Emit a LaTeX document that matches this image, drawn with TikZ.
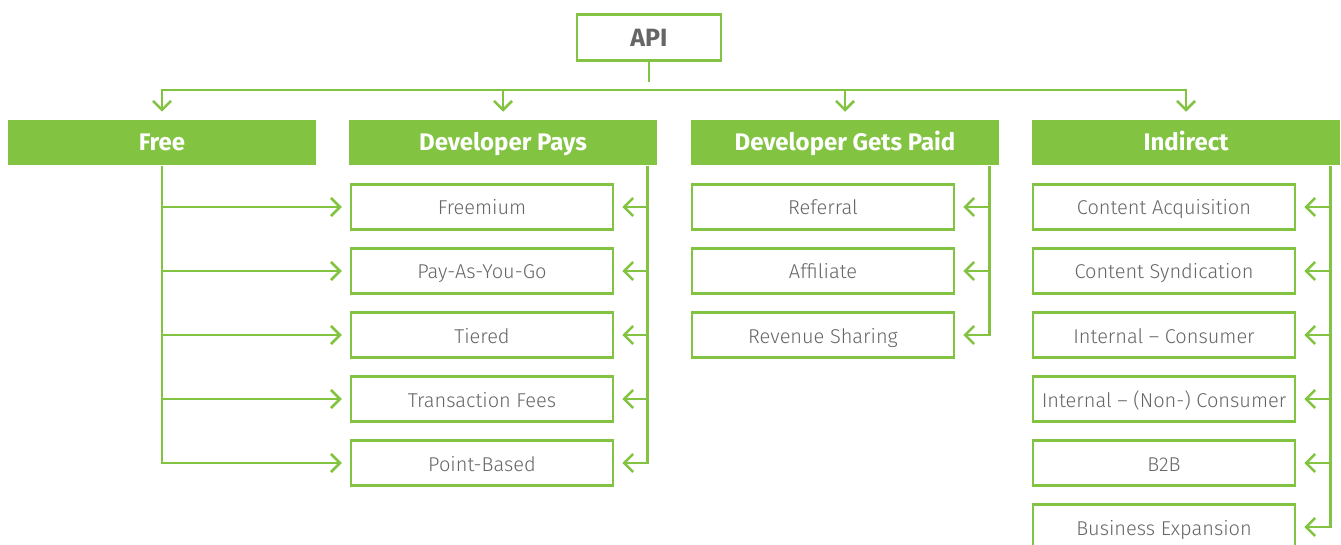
\documentclass[tikz,border=0pt]{standalone}
\usepackage{fontspec}
\setmainfont{Fira Sans}
\newfontfamily\thinfont{Fira Sans Light}
\usepackage{tikz}
\usetikzlibrary{arrows.meta, positioning}
\usepackage{xcolor}
\definecolor{apigreen}{HTML}{82C341}
\definecolor{apigray}{HTML}{666666}

\begin{document}
\begin{tikzpicture}[x=1pt,y=1pt,node distance=64pt,on grid,line width=2.5pt,
    >={Straight Barb[length=9pt,width=18pt]},shorten >=8pt]
    \tikzstyle{top}=[draw=apigreen,fill=white,minimum width=144pt,minimum height=46pt,
        text=apigray,font=\fontsize{25}{30}\selectfont\bfseries]
    \tikzstyle{head}=[fill=apigreen,minimum width=308pt,minimum height=45pt,inner sep=0pt,
        text height=20pt,text depth=4pt,text=white,font=\fontsize{24}{28}\selectfont\bfseries]
    \tikzstyle{item}=[draw=apigreen,fill=white,minimum width=262pt,minimum height=45pt,inner sep=0pt,
        text height=18pt,text depth=2pt,text=apigray,font=\thinfont\fontsize{20}{24}\selectfont]
    \tikzstyle{elbow}=[to path={|- (\tikztotarget)}]
    \tikzstyle{drop}=[to path={-| (\tikztotarget)}]
    \useasboundingbox (0,0) rectangle (1341,-545);

    \node[top] (api) at (649,-37.5) {API};
    \coordinate (bus) at (649,-90);

    \node[head] (free) at (162,-142.5) {Free};
    \node[head] (pays) at (503,-142.5) {Developer Pays};
    \node[head] (paid) at (845,-142.5) {Developer Gets Paid};
    \node[head] (ind) at (1186,-142.5) {Indirect};
    \coordinate (payrail) at ([xshift=-11pt]pays.south east);
    \coordinate (paidrail) at ([xshift=-11pt]paid.south east);
    \coordinate (indrail) at ([xshift=-11pt]ind.south east);

    % developer pays
    \node[item, below=64.5pt of pays, xshift=-21pt] (p1) {Freemium};
    \node[item, below=of p1] (p2) {Pay-As-You-Go};
    \node[item, below=of p2] (p3) {Tiered};
    \node[item, below=of p3] (p4) {Transaction Fees};
    \node[item, below=of p4] (p5) {Point-Based};

    % developer gets paid
    \node[item, below=64.5pt of paid, xshift=-22pt] (g1) {Referral};
    \node[item, below=of g1] (g2) {Affiliate};
    \node[item, below=of g2] (g3) {Revenue Sharing};

    % indirect
    \node[item, below=64.5pt of ind, xshift=-22pt] (i1) {Content Acquisition};
    \node[item, below=of i1] (i2) {Content Syndication};
    \node[item, below=of i2] (i3) {Internal – Consumer};
    \node[item, below=of i3] (i4) {Internal – (Non-) Consumer};
    \node[item, below=of i4] (i5) {B2B};
    \node[item, below=of i5] (i6) {Business Expansion};

    \draw[apigreen] (api) -- (bus);
    \draw[apigreen] (bus -| free) -- (bus -| ind);

    \path[->,apigreen]
    (bus) edge[drop, shorten >=7pt] (free)
    (bus) edge[drop, shorten >=7pt] (pays)
    (bus) edge[drop, shorten >=7pt] (paid)
    (bus) edge[drop, shorten >=7pt] (ind)
    (free) edge[elbow] (p1)
    (free) edge[elbow] (p2)
    (free) edge[elbow] (p3)
    (free) edge[elbow] (p4)
    (free) edge[elbow] (p5)
    (payrail) edge[elbow] (p1)
    (payrail) edge[elbow] (p2)
    (payrail) edge[elbow] (p3)
    (payrail) edge[elbow] (p4)
    (payrail) edge[elbow] (p5)
    (paidrail) edge[elbow] (g1)
    (paidrail) edge[elbow] (g2)
    (paidrail) edge[elbow] (g3)
    (indrail) edge[elbow] (i1)
    (indrail) edge[elbow] (i2)
    (indrail) edge[elbow] (i3)
    (indrail) edge[elbow] (i4)
    (indrail) edge[elbow] (i5)
    (indrail) edge[elbow] (i6)
    ;
\end{tikzpicture}
\end{document}
